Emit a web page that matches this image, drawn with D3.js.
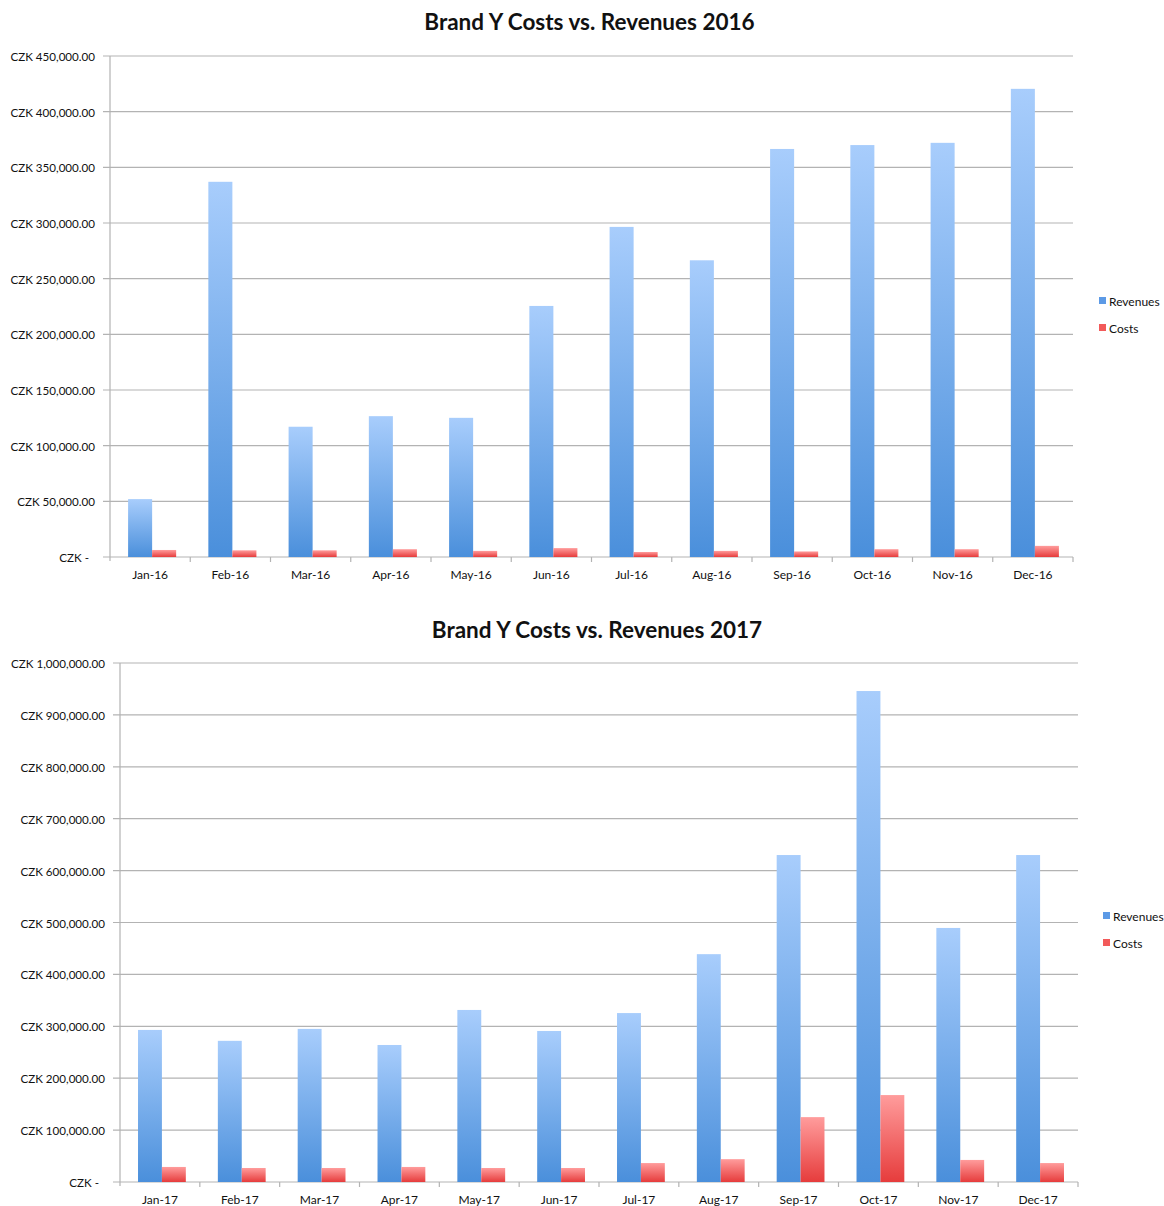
<!DOCTYPE html>
<html>
<head>
<meta charset="utf-8">
<script src="https://cdn.jsdelivr.net/npm/d3@7"></script>
<style>
  body { margin: 0; background: #fff; }
  svg { font-family: Lato, "Open Sans", sans-serif; }
</style>
</head>
<body>
<div id="charts"></div>
<script>
/* DATA */

const months2016 = ["Jan-16", "Feb-16", "Mar-16", "Apr-16", "May-16", "Jun-16",
                    "Jul-16", "Aug-16", "Sep-16", "Oct-16", "Nov-16", "Dec-16"];
const revenues2016 = [52000, 337000, 117000, 126500, 125000, 225500,
                      296500, 266500, 366500, 370000, 372000, 420500];
const costs2016 = [6300, 6000, 6000, 7000, 5500, 8000,
                   4500, 5500, 5000, 7000, 7000, 10000];
const ticks2016 = [0, 50000, 100000, 150000, 200000, 250000, 300000, 350000, 400000, 450000];

const months2017 = ["Jan-17", "Feb-17", "Mar-17", "Apr-17", "May-17", "Jun-17",
                    "Jul-17", "Aug-17", "Sep-17", "Oct-17", "Nov-17", "Dec-17"];
const revenues2017 = [293000, 272000, 295000, 264000, 331500, 291000,
                      325500, 439000, 630000, 946000, 489500, 630000];
const costs2017 = [29000, 27000, 27000, 29000, 27000, 27000,
                   36500, 44000, 125000, 167500, 42500, 36500];
const ticks2017 = [0, 100000, 200000, 300000, 400000, 500000, 600000, 700000, 800000, 900000, 1000000];

const seriesNames = ["Revenues", "Costs"];

/* SETUP */

const svg = d3.select("#charts").append("svg")
    .attr("width", 1164)
    .attr("height", 1206);

// gradients for the bars (light at top, darker at bottom)
const defs = svg.append("defs");
function addGradient(id, top, bottom) {
    let g = defs.append("linearGradient")
        .attr("id", id)
        .attr("x1", 0).attr("y1", 0)
        .attr("x2", 0).attr("y2", 1);
    g.append("stop").attr("offset", "0%").attr("stop-color", top);
    g.append("stop").attr("offset", "100%").attr("stop-color", bottom);
}
addGradient("gradRev", "#a8cdfc", "#4a8fdb");
addGradient("gradCost", "#ff9c9c", "#e63c3c");

const fmt = d3.format(",.2f");
function czk(v) { return v === 0 ? "CZK -" : "CZK " + fmt(v); }

drawChart({
    title: "Brand Y Costs vs. Revenues 2016",
    titleY: 30,
    months: months2016, revenues: revenues2016, costs: costs2016, ticks: ticks2016,
    left: 110, right: 1073, top: 56, bottom: 557,
    labelX: 95,
    legendX: 1099, legendY: 302
});

drawChart({
    title: "Brand Y Costs vs. Revenues 2017",
    titleY: 638,
    months: months2017, revenues: revenues2017, costs: costs2017, ticks: ticks2017,
    left: 120, right: 1078, top: 663, bottom: 1182,
    labelX: 105,
    legendX: 1103, legendY: 917
});

/* FUNCTIONS */

function drawChart(c) {
    let g = svg.append("g");

    let x = d3.scaleBand()
        .domain(c.months)
        .range([c.left, c.right])
        .paddingInner(0)
        .paddingOuter(0);

    let y = d3.scaleLinear()
        .domain([0, c.ticks[c.ticks.length - 1]])
        .range([c.bottom, c.top]);

    // two bars per month, roughly 24px wide each
    let inner = d3.scaleBand()
        .domain(seriesNames)
        .range([2, x.bandwidth() + 2])
        .paddingInner(0)
        .paddingOuter(0.67);

    // title
    g.append("text")
        .attr("x", (c.left + c.right) / 2 - 2)
        .attr("y", c.titleY)
        .attr("text-anchor", "middle")
        .style("font-size", "22.5px")
        .style("font-weight", "bold")
        .style("fill", "#111")
        .text(c.title);

    // gridlines
    g.selectAll(".grid")
        .data(c.ticks)
        .enter()
            .append("line")
            .attr("x1", c.left - 7)
            .attr("x2", c.right)
            .attr("y1", d => y(d))
            .attr("y2", d => y(d))
            .style("stroke", "#b3b3b3")
            .style("stroke-width", 1.2);

    // y axis line
    g.append("line")
        .attr("x1", c.left).attr("x2", c.left)
        .attr("y1", c.top).attr("y2", c.bottom + 4)
        .style("stroke", "#b3b3b3")
        .style("stroke-width", 1.2);

    // y labels
    g.selectAll(".ylab")
        .data(c.ticks)
        .enter()
            .append("text")
            .attr("x", d => d === 0 ? c.labelX - 6 : c.labelX)
            .attr("y", d => y(d) + 5)
            .attr("text-anchor", "end")
            .style("font-size", "11.6px")
            .style("fill", "#111")
            .text(d => czk(d));

    // x axis ticks between categories
    g.selectAll(".xtick")
        .data(c.months.slice(1).concat(["end"]))
        .enter()
            .append("line")
            .attr("x1", (d, i) => c.left + (i + 1) * x.bandwidth())
            .attr("x2", (d, i) => c.left + (i + 1) * x.bandwidth())
            .attr("y1", c.bottom)
            .attr("y2", c.bottom + 5)
            .style("stroke", "#b3b3b3")
            .style("stroke-width", 1.2);

    // x labels
    g.selectAll(".xlab")
        .data(c.months)
        .enter()
            .append("text")
            .attr("x", d => x(d) + x.bandwidth() / 2)
            .attr("y", c.bottom + 22)
            .attr("text-anchor", "middle")
            .style("font-size", "12px")
            .style("fill", "#111")
            .text(d => d);

    // bars
    let rows = c.months.map((m, i) => ({ month: m, Revenues: c.revenues[i], Costs: c.costs[i] }));
    let groups = g.selectAll(".bars")
        .data(rows)
        .enter()
            .append("g")
            .attr("transform", d => `translate(${x(d.month)},0)`);

    groups.selectAll("rect")
        .data(d => seriesNames.map(s => ({ key: s, value: d[s] })))
        .enter()
            .append("rect")
            .attr("x", d => inner(d.key))
            .attr("width", inner.bandwidth())
            .attr("y", d => y(d.value))
            .attr("height", d => c.bottom - y(d.value))
            .style("fill", d => d.key === "Revenues" ? "url(#gradRev)" : "url(#gradCost)");

    // legend
    let legend = g.selectAll(".legend")
        .data(seriesNames)
        .enter()
            .append("g")
            .attr("transform", (d, i) => `translate(${c.legendX},${c.legendY + i * 27})`);
    legend.append("rect")
        .attr("x", 0).attr("y", -5)
        .attr("width", 7).attr("height", 7)
        .style("fill", d => d === "Revenues" ? "#5c9ae6" : "#f25a5a");
    legend.append("text")
        .attr("x", 10).attr("y", 4)
        .style("font-size", "12px")
        .style("fill", "#111")
        .text(d => d);
}
</script>
</body>
</html>
